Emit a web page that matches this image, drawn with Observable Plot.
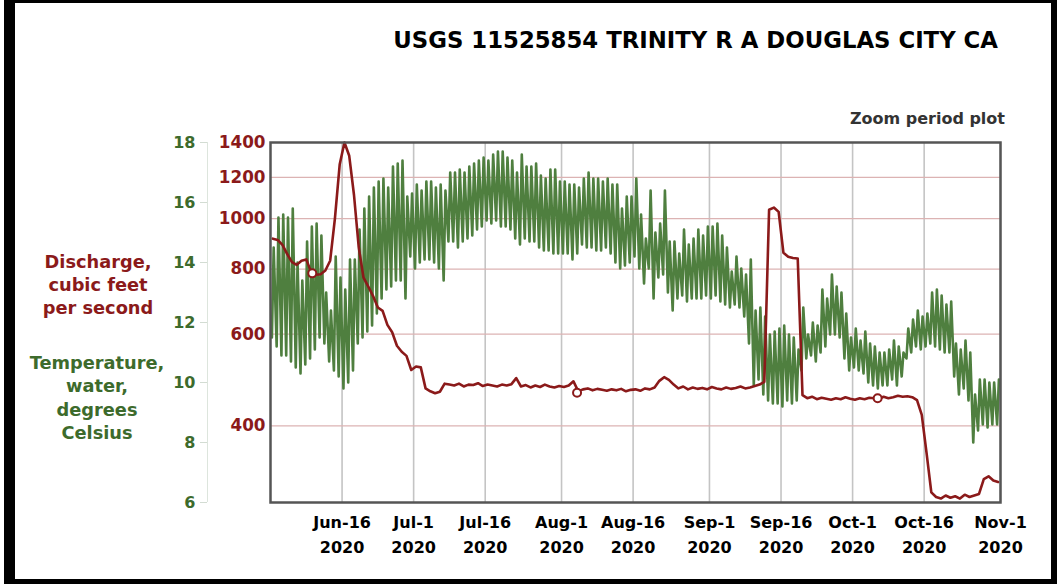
<!DOCTYPE html>
<html><head><meta charset="utf-8">
<script src="https://cdn.jsdelivr.net/npm/d3@7"></script>
<script src="https://cdn.jsdelivr.net/npm/@observablehq/plot@0.6"></script>
<style>
body{margin:0;background:#fff;}
#wrap{position:relative;width:1058px;height:588px;overflow:hidden;font-family:"DejaVu Sans",Verdana,sans-serif;font-weight:bold;}
#chart{position:absolute;left:0;top:0;}
.t{position:absolute;white-space:nowrap;}
.c{transform:translateX(-50%);text-align:center;}
#border{position:absolute;left:4px;top:0;width:1036px;height:576px;border-style:solid;border-color:#000;border-width:3px 6px 5px 11px;}
</style></head><body>
<div id="wrap">
<div id="chart"></div>
<div class="t" style="right:60px;top:27px;font-size:22.8px;color:#000;">USGS 11525854 TRINITY R A DOUGLAS CITY CA</div>
<div class="t" style="right:53px;top:109px;font-size:16px;color:#333;">Zoom period plot</div>
<div class="t c" style="left:98px;top:250px;font-size:17.8px;line-height:23px;color:#8b1a1a;">Discharge,<br>cubic feet<br>per second</div>
<div class="t c" style="left:97px;top:351px;font-size:17.8px;line-height:23.3px;color:#3d6b2c;">Temperature,<br>water,<br>degrees<br>Celsius</div>
<div id="border"></div>
</div>
<script>
// ---- data (index 0 = 2020-06-01, one value per day) ----
const startDate = "2020-06-01";
const endDate = "2020-11-01";

const tempMax = [
14.5,15.5,15.6,15.5,15.8,14.0,13.4,14.7,15.2,15.3,
14.9,13.0,12.4,14.2,13.5,13.1,14.1,14.1,15.1,15.8,
16.2,16.5,16.7,16.8,16.5,17.2,17.3,17.4,16.2,16.3,
16.6,16.4,16.7,16.7,16.5,16.6,16.4,17.0,17.0,17.1,
17.0,17.2,17.3,17.4,17.5,17.4,17.6,17.7,17.7,17.5,
17.4,17.0,17.6,17.2,17.2,17.3,16.9,16.8,17.1,17.1,
16.7,16.7,16.6,16.6,16.5,16.8,17.0,16.8,16.8,16.7,
16.8,16.6,16.6,15.8,16.2,16.2,16.8,15.6,14.8,16.4,
15.0,15.3,16.4,14.7,14.7,14.3,15.1,14.6,14.8,15.1,
14.9,15.2,15.2,15.3,14.9,14.5,13.7,14.2,13.8,13.6,
14.1,12.4,12.5,12.2,11.6,11.7,11.8,11.9,11.6,11.5,
11.1,12.5,11.6,12.0,11.9,13.1,12.8,13.6,13.2,13.0,
12.3,11.5,11.8,11.4,11.7,11.3,11.2,11.0,11.0,11.1,
11.4,11.2,11.0,11.8,12.1,12.4,12.2,12.3,13.0,13.1,
12.9,12.6,12.7,11.3,11.1,11.4,11.0,9.6,10.1,10.1,
10.0,10.0,10.1];

const tempMin = [
11.5,11.2,10.9,10.9,10.7,10.5,10.3,10.6,10.8,11.1,
11.5,11.3,10.7,10.4,10.2,9.8,10.0,10.4,11.3,11.5,
11.7,11.9,12.3,12.8,13.1,13.2,13.4,13.4,12.8,14.2,
13.8,14.0,14.1,14.1,14.0,13.8,13.4,14.7,14.7,14.5,
14.7,14.8,14.9,15.1,15.2,15.4,15.3,15.4,15.2,15.2,
15.1,14.8,14.6,14.8,14.7,14.7,14.5,14.4,14.4,14.3,
14.3,14.3,14.3,14.1,14.3,14.6,14.5,14.5,14.4,14.4,
14.5,14.3,14.0,13.8,13.9,14.0,14.2,13.8,13.3,13.8,
12.8,13.5,13.6,13.0,12.4,12.8,12.9,12.7,12.8,12.8,
12.8,12.9,12.8,12.9,12.7,12.6,12.5,12.6,12.5,12.2,
11.3,9.9,10.1,9.6,9.4,9.3,9.3,9.2,9.4,9.3,
9.4,10.4,10.8,10.9,10.7,11.0,11.2,11.6,11.6,11.5,
10.8,10.4,10.5,10.4,10.3,10.0,9.9,9.8,9.9,9.9,
10.1,9.9,10.2,10.8,11.0,11.2,11.1,11.2,11.3,11.2,
11.1,11.0,11.0,10.2,9.6,9.8,9.4,8.0,8.4,8.6,
8.5,8.6,8.6];

const discharge = [
915,910,890,855,825,815,830,835,790,780,
782,795,830,1000,1270,1400,1320,1110,880,770,
740,710,675,665,625,605,570,555,545,512,
520,518,472,466,462,465,482,480,478,482,
476,480,479,483,477,480,478,476,480,478,
481,494,476,479,474,478,475,480,476,474,
477,475,478,487,466,470,472,468,471,469,
467,470,468,471,466,469,470,467,472,470,
474,488,496,490,480,472,476,470,474,471,
473,470,475,472,470,474,471,473,476,472,
474,477,480,486,1040,1050,1030,860,845,840,
838,458,452,455,450,453,451,449,452,450,
454,451,449,452,450,453,452,451,455,452,
454,457,455,456,454,448,420,355,298,292,
290,294,291,293,290,295,292,294,296,316,
320,314,312];

const markerDates = ["2020-06-09T18:00Z","2020-08-04T06:00Z","2020-10-06T06:00Z"];
const markerValues = [785, 463, 452];

const xTickDates = ["2020-06-16","2020-07-01","2020-07-16","2020-08-01","2020-08-16","2020-09-01","2020-09-16","2020-10-01","2020-10-16","2020-11-01"];
const xTickLabels = ["Jun-16","Jul-1","Jul-16","Aug-1","Aug-16","Sep-1","Sep-16","Oct-1","Oct-16","Nov-1"];
const xTickYears = ["2020","2020","2020","2020","2020","2020","2020","2020","2020","2020"];
const dischargeTicks = [400,600,800,1000,1200,1400];
const dischargeGrid = [400,600,800,1000,1200];
const tempTicks = [6,8,10,12,14,16,18];
const tempDomain = [6,18];
const dischargeDomain = [285,1400];

// ---- build tables ----
const DAY = 864e5;
const t0 = new Date(startDate + "T00:00Z");
const t1 = new Date(endDate + "T00:00Z");
const tempPts = [];
tempMax.forEach((mx, i) => {
  tempPts.push({t: new Date(+t0 + i*DAY + 7*36e5), v: tempMin[i]});
  tempPts.push({t: new Date(+t0 + i*DAY + 16*36e5), v: mx});
});
const qPts = discharge.map((q, i) => ({t: new Date(+t0 + i*DAY + 12*36e5), q}));
const markers = markerDates.map((d, i) => ({t: new Date(d), q: markerValues[i]}));
const xTicks = xTickDates.map(d => new Date(d + "T00:00Z"));

const lnLo = Math.log(dischargeDomain[0]), lnHi = Math.log(dischargeDomain[1]);
const toQ = T => Math.exp(lnLo + (T - tempDomain[0]) / (tempDomain[1] - tempDomain[0]) * (lnHi - lnLo));
const fromQ = q => tempDomain[0] + (Math.log(q) - lnLo) / (lnHi - lnLo) * (tempDomain[1] - tempDomain[0]);
const xFmt = d => { const i = xTicks.findIndex(t => +t === +d); return xTickLabels[i] + "\n" + xTickYears[i]; };

const RED = "#8b1a1a", GREEN = "#3d6b2c";
const chart = Plot.plot({
  width: 1058, height: 588,
  marginTop: 142, marginBottom: 86, marginLeft: 270, marginRight: 58,
  style: {background: "transparent", fontFamily: "DejaVu Sans, Verdana, sans-serif", fontWeight: "bold", overflow: "visible"},
  x: {type: "utc", domain: [t0, t1], label: null},
  y: {type: "log", domain: dischargeDomain, label: null},
  marks: [
    Plot.gridX(xTicks, {stroke: "#c4c4c4", strokeOpacity: 1, strokeWidth: 1.6}),
    Plot.gridY(dischargeGrid, {stroke: "#dcb3b3", strokeOpacity: 1, strokeWidth: 1.2}),
    Plot.ruleX([t0], {dx: -63, stroke: "#dde5dd", strokeWidth: 1}),
    Plot.axisY(tempTicks.map(toQ), {anchor: "left", dx: -63, tickSize: 7, tickPadding: 5, stroke: "#d3dcd3", fill: GREEN, fontSize: 16, fontWeight: "bold", label: null, tickFormat: q => String(Math.round(fromQ(q)))}),
    Plot.axisY(dischargeTicks, {anchor: "left", tickSize: 0, tickPadding: 5, fill: RED, fontSize: 16.8, fontWeight: "bold", label: null, tickFormat: d => String(d)}),
    Plot.axisX(xTicks, {anchor: "bottom", tickSize: 0, tickPadding: 8, fill: "#000", fontSize: 16, fontWeight: "bold", lineHeight: 1.55, label: null, tickFormat: xFmt}),
    Plot.line(tempPts, {x: "t", y: d => toQ(d.v), stroke: "#4f7f3f", strokeWidth: 2.6, strokeLinejoin: "round"}),
    Plot.line(qPts, {x: "t", y: "q", stroke: RED, strokeWidth: 2.6, strokeLinejoin: "round"}),
    Plot.dot(markers, {x: "t", y: "q", r: 4, stroke: RED, fill: "#fff", strokeWidth: 2}),
    Plot.frame({stroke: "#555", strokeWidth: 2.5})
  ]
});
document.getElementById("chart").appendChild(chart);
</script>
</body></html>
